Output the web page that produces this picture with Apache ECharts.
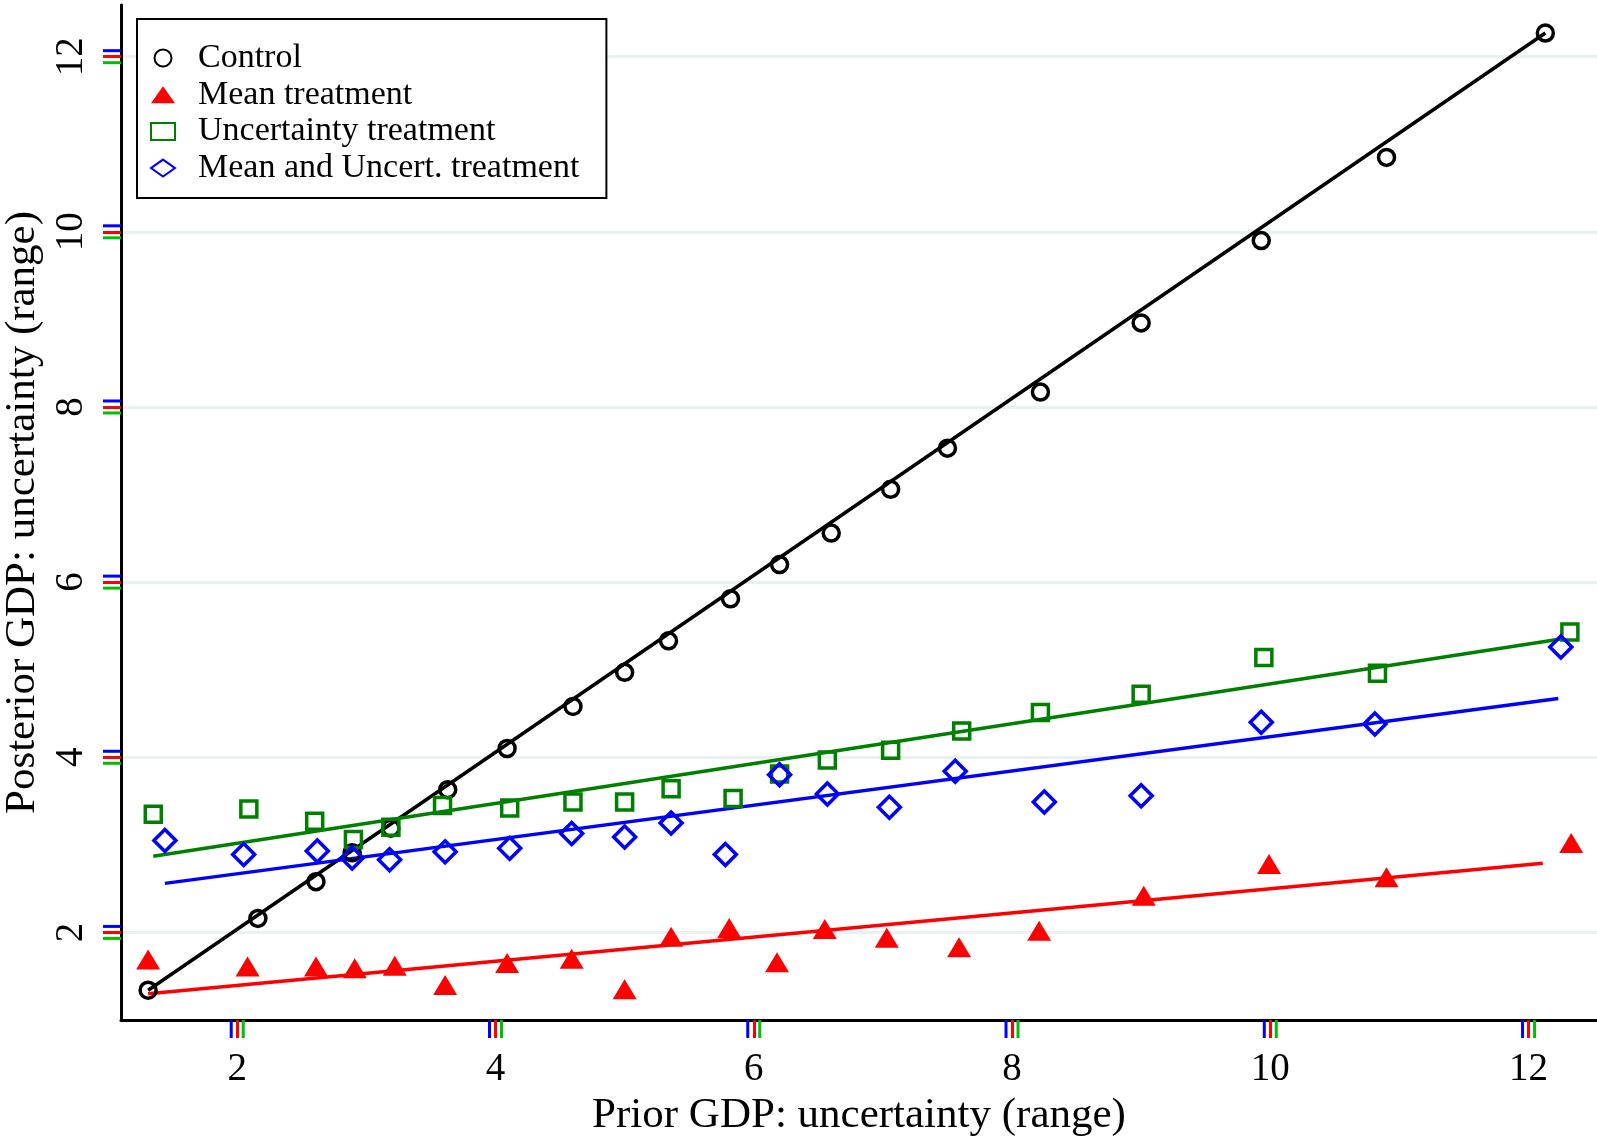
<!DOCTYPE html>
<html>
<head>
<meta charset="utf-8">
<script src="https://cdn.jsdelivr.net/npm/echarts@6/dist/echarts.min.js"></script>
<style>
  html, body { margin: 0; padding: 0; background: #fff; }
  #chart { width: 1597px; height: 1137px; }
</style>
</head>
<body>
<div id="chart"></div>
<script>
// prior GDP uncertainty (x) vs posterior (y)
const controlPts = [
  [1.31, 1.34], [2.16, 2.16], [2.61, 2.58], [2.89, 2.91], [3.19, 3.19],
  [3.63, 3.63], [4.09, 4.10], [4.60, 4.58], [5.00, 4.97], [5.34, 5.33],
  [5.82, 5.81], [6.20, 6.20], [6.60, 6.56], [7.06, 7.06], [7.50, 7.53],
  [8.22, 8.17], [9.00, 8.96], [9.93, 9.90], [10.90, 10.85], [12.13, 12.27]
]
const meanPts = [
  [1.31, 1.69], [2.08, 1.61], [2.61, 1.61], [2.91, 1.59], [3.22, 1.62],
  [3.61, 1.40], [4.09, 1.65], [4.59, 1.70], [5.00, 1.35], [5.36, 1.95],
  [5.81, 2.05], [6.18, 1.66], [6.55, 2.04], [7.03, 1.94], [7.59, 1.83],
  [8.21, 2.02], [9.02, 2.42], [9.99, 2.78], [10.90, 2.63], [12.33, 3.02]
]
const uncertPts = [
  [1.35, 3.35], [2.09, 3.41], [2.60, 3.27], [2.90, 3.06], [3.19, 3.20],
  [3.59, 3.45], [4.11, 3.42], [4.60, 3.49], [5.00, 3.49], [5.36, 3.64],
  [5.84, 3.53], [6.20, 3.81], [6.57, 3.97], [7.06, 4.08], [7.61, 4.30],
  [8.22, 4.51], [9.00, 4.72], [9.95, 5.14], [10.83, 4.96], [12.32, 5.43]
]
const bothPts = [
  [1.44, 3.05], [2.05, 2.89], [2.62, 2.93], [2.89, 2.85], [3.18, 2.83],
  [3.61, 2.92], [4.11, 2.96], [4.59, 3.13], [5.00, 3.09], [5.36, 3.25],
  [5.78, 2.89], [6.20, 3.80], [6.57, 3.58], [7.05, 3.43], [7.56, 3.84],
  [8.25, 3.49], [9.00, 3.56], [9.93, 4.40], [10.81, 4.38], [12.25, 5.26]
]

// linear fit lines (end points)
const controlFit = [[1.31, 1.34], [12.13, 12.27]]
const meanFit = [[1.31, 1.30], [12.11, 2.79]]
const uncertFit = [[1.35, 2.87], [12.25, 5.35]]
const bothFit = [[1.44, 2.56], [12.23, 4.67]]

const seriesNames = ['Control', 'Mean treatment', 'Uncertainty treatment', 'Mean and Uncert. treatment']
const tickValues = [2, 4, 6, 8, 10, 12]

const X_MIN = 1.1
const X_MAX = 12.53
const Y_MIN = 1.0
const Y_MAX = 12.59
const TICK_LEN = 18

const serif = 'Liberation Serif'

const chart = echarts.init(document.getElementById('chart'))

function fitLine(data, color) {
  return {
    type: 'line',
    data: data,
    symbol: 'none',
    silent: true,
    z: 3,
    lineStyle: { color: color, width: 3.5 },
  }
}

// outward tick marks drawn as thin rect symbols on the axis lines
function tickSeries(isX) {
  return {
    type: 'scatter',
    clip: false,
    data: tickValues.map(v => (isX ? [v, Y_MIN] : [X_MIN, v])),
    symbol: 'rect',
    symbolSize: isX ? [3, TICK_LEN] : [TICK_LEN, 3],
    symbolOffset: isX ? [6, TICK_LEN / 2] : [-TICK_LEN / 2, 6],
    itemStyle: { color: '#00c000', opacity: 1 },
  }
}

const tickStyle = { show: true, length: TICK_LEN, lineStyle: { color: '#ff0000', width: 3 }, customValues: tickValues }

chart.setOption({
  animation: false,
  grid: { left: 121, top: 5, right: 0, bottom: 117, outerBoundsMode: 'none' },
  legend: {
    left: 137,
    top: 19,
    orient: 'vertical',
    backgroundColor: '#fff',
    borderColor: '#000',
    borderWidth: 2,
    borderRadius: 0,
    padding: [22, 27, 13, 13],
    itemWidth: 24,
    itemHeight: 17,
    itemGap: 2.7,
    textStyle: {
      fontFamily: serif,
      fontSize: 34,
      color: '#000',
      padding: [0, 0, 0, 18],
    },
    data: seriesNames,
  },
  xAxis: {
    type: 'value',
    min: X_MIN,
    max: X_MAX,
    name: 'Prior GDP: uncertainty (range)',
    nameLocation: 'middle',
    nameGap: 70,
    nameTextStyle: { fontFamily: serif, fontSize: 43, color: '#000' },
    axisLine: { onZero: false, lineStyle: { color: '#000', width: 3 } },
    axisTick: tickStyle,
    axisLabel: { fontFamily: serif, fontSize: 39, color: '#000', margin: 30, customValues: tickValues },
    splitLine: { show: false },
  },
  yAxis: {
    type: 'value',
    min: Y_MIN,
    max: Y_MAX,
    name: 'Posterior GDP: uncertainty (range)',
    nameLocation: 'middle',
    nameGap: 65,
    nameRotate: 90,
    nameTextStyle: { fontFamily: serif, fontSize: 43, color: '#000' },
    axisLine: { onZero: false, lineStyle: { color: '#000', width: 3 } },
    axisTick: tickStyle,
    axisLabel: { fontFamily: serif, fontSize: 39, color: '#000', margin: 30, rotate: 90, customValues: tickValues },
    splitLine: { show: true, lineStyle: { color: '#e9f1f3', width: 3 } },
  },
  series: [
    tickSeries(true),
    tickSeries(false),
    fitLine(controlFit, '#000'),
    fitLine(meanFit, '#ff0000'),
    fitLine(uncertFit, '#008000'),
    fitLine(bothFit, '#0000ff'),
    {
      name: seriesNames[0],
      type: 'scatter',
      data: controlPts,
      symbol: 'circle',
      symbolSize: 16,
      z: 4,
      itemStyle: { color: 'rgba(0,0,0,0)', borderColor: '#000', borderWidth: 3.5, opacity: 1 },
    },
    {
      name: seriesNames[1],
      type: 'scatter',
      data: meanPts,
      symbol: 'triangle',
      symbolSize: [24, 20],
      z: 4,
      itemStyle: { color: '#ff0000', opacity: 1 },
    },
    {
      name: seriesNames[2],
      type: 'scatter',
      data: uncertPts,
      symbol: 'rect',
      symbolSize: 16,
      z: 4,
      itemStyle: { color: 'rgba(0,0,0,0)', borderColor: '#008000', borderWidth: 3.5, opacity: 1 },
    },
    {
      name: seriesNames[3],
      type: 'scatter',
      data: bothPts,
      symbol: 'diamond',
      symbolSize: 22,
      z: 4,
      itemStyle: { color: 'rgba(0,0,0,0)', borderColor: '#0000ff', borderWidth: 3.5, opacity: 1 },
    },
  ],
})

// extra tick marks, positioned with the grid's own conversion
const tickGraphics = []
tickValues.forEach(v => {
  const px = chart.convertToPixel({ gridIndex: 0 }, [v, Y_MIN])
  const py = chart.convertToPixel({ gridIndex: 0 }, [X_MIN, v])
  tickGraphics.push({
    type: 'line', silent: true, z: 100,
    shape: { x1: px[0] - 6, y1: px[1], x2: px[0] - 6, y2: px[1] + TICK_LEN },
    style: { stroke: '#0000ff', lineWidth: 3 },
  })
  tickGraphics.push({
    type: 'line', silent: true, z: 100,
    shape: { x1: py[0] - TICK_LEN, y1: py[1] - 6, x2: py[0], y2: py[1] - 6 },
    style: { stroke: '#0000ff', lineWidth: 3 },
  })
})
chart.setOption({ graphic: tickGraphics })
</script>
</body>
</html>
